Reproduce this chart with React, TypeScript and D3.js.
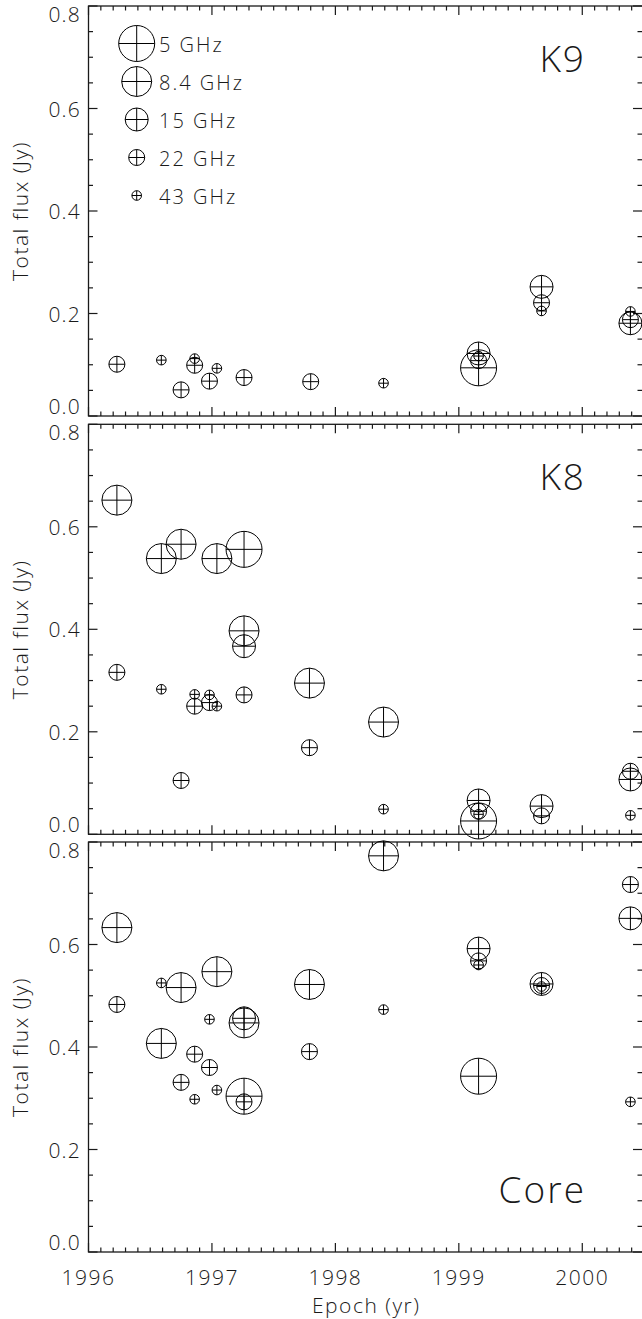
import * as d3 from 'd3';

// bands: 0 = 5 GHz, 1 = 8.4 GHz, 2 = 15 GHz, 3 = 22 GHz, 4 = 43 GHz
const bandLabels = ['5 GHz', '8.4 GHz', '15 GHz', '22 GHz', '43 GHz'];
const bandRadius = [18, 15, 11.5, 8, 4.8];

type Pt = [number, number, number]; // epoch, band, flux

const k9Points: Pt[] = [
  [1996.23, 3, 0.101],
  [1996.59, 4, 0.109],
  [1996.75, 3, 0.051],
  [1996.86, 3, 0.099],
  [1996.86, 4, 0.112],
  [1996.98, 3, 0.068],
  [1997.04, 4, 0.093],
  [1997.26, 3, 0.075],
  [1997.8, 3, 0.067],
  [1998.39, 4, 0.064],
  [1999.16, 0, 0.094],
  [1999.16, 2, 0.122],
  [1999.16, 3, 0.108],
  [1999.16, 4, 0.117],
  [1999.67, 2, 0.252],
  [1999.67, 3, 0.221],
  [1999.67, 4, 0.205],
  [2000.39, 2, 0.181],
  [2000.39, 3, 0.188],
  [2000.39, 4, 0.204],
];

const k8Points: Pt[] = [
  [1996.23, 1, 0.652],
  [1996.23, 3, 0.316],
  [1996.59, 1, 0.538],
  [1996.59, 4, 0.283],
  [1996.75, 1, 0.566],
  [1996.75, 3, 0.105],
  [1996.86, 4, 0.273],
  [1996.86, 3, 0.25],
  [1996.98, 4, 0.272],
  [1996.98, 3, 0.257],
  [1997.04, 4, 0.25],
  [1997.04, 1, 0.538],
  [1997.26, 0, 0.556],
  [1997.26, 1, 0.397],
  [1997.26, 2, 0.367],
  [1997.26, 3, 0.272],
  [1997.79, 1, 0.295],
  [1997.79, 3, 0.169],
  [1998.39, 1, 0.219],
  [1998.39, 4, 0.049],
  [1999.16, 2, 0.066],
  [1999.16, 3, 0.045],
  [1999.16, 4, 0.039],
  [1999.16, 0, 0.026],
  [1999.67, 2, 0.055],
  [1999.67, 3, 0.036],
  [2000.39, 3, 0.123],
  [2000.39, 2, 0.107],
  [2000.39, 4, 0.037],
];

const corePoints: Pt[] = [
  [1996.23, 1, 0.633],
  [1996.23, 3, 0.483],
  [1996.59, 4, 0.525],
  [1996.59, 1, 0.407],
  [1996.75, 1, 0.516],
  [1996.75, 3, 0.331],
  [1996.86, 3, 0.386],
  [1996.86, 4, 0.298],
  [1996.98, 4, 0.454],
  [1996.98, 3, 0.36],
  [1997.04, 1, 0.547],
  [1997.04, 4, 0.316],
  [1997.26, 2, 0.456],
  [1997.26, 1, 0.447],
  [1997.26, 0, 0.304],
  [1997.26, 3, 0.293],
  [1997.79, 1, 0.522],
  [1997.79, 3, 0.391],
  [1998.39, 1, 0.773],
  [1998.39, 4, 0.473],
  [1999.16, 2, 0.592],
  [1999.16, 3, 0.568],
  [1999.16, 4, 0.56],
  [1999.16, 0, 0.343],
  [1999.67, 2, 0.523],
  [1999.67, 3, 0.52],
  [1999.67, 4, 0.518],
  [2000.39, 3, 0.717],
  [2000.39, 2, 0.651],
  [2000.39, 4, 0.293],
];

const yearTicks = [1996, 1997, 1998, 1999, 2000];
const fluxTicks = [0, 0.2, 0.4, 0.6, 0.8];

const font = "'Open Sans', 'Liberation Sans', 'DejaVu Sans', sans-serif";
const ink = '#1a1a1a';

const left = 88.5;
const right = 644;
const panelH = 410;
const panelTops = [6, 424.3, 842];

const x = d3.scaleLinear().domain([1996, 2000.5]).range([left, right]);
const xMinor = d3.range(1996, 2000.51, 0.1);
const yMinor = d3.range(0, 0.801, 0.05);

function Marker({ cx, cy, r }: { cx: number; cy: number; r: number }) {
  return (
    <g stroke="#000" strokeWidth={1} fill="none">
      <circle cx={cx} cy={cy} r={r} />
      <line x1={cx - r} x2={cx + r} y1={cy} y2={cy} />
      <line x1={cx} x2={cx} y1={cy - r} y2={cy + r} />
    </g>
  );
}

const textProps = {
  fontFamily: font,
  fontWeight: 300,
  fill: ink,
};

function Panel({
  top,
  points,
  label,
  labelY,
  showX,
  legend,
}: {
  top: number;
  points: Pt[];
  label: string;
  labelY: number;
  showX: boolean;
  legend?: boolean;
}) {
  const bottom = top + panelH;
  const y = d3.scaleLinear().domain([0, 0.8]).range([bottom, top]);
  const isMajorX = (v: number) => Math.abs(v - Math.round(v)) < 1e-6;
  const isMajorY = (v: number) => Math.abs(v * 5 - Math.round(v * 5)) < 1e-6;
  // end labels are pulled inside the frame, middle ones centred on the tick
  const labelBase = (v: number) => {
    if (v === 0) return y(v) - 2;
    if (v === 0.8) return y(v) + 16;
    return y(v) + 8;
  };
  return (
    <g>
      <rect x={left} y={top} width={right - left} height={panelH} fill="none" stroke={ink} strokeWidth={1.3} />
      {xMinor.map((v, i) => {
        const len = isMajorX(v) ? 9 : 4.5;
        const px = x(v);
        return (
          <g key={'xt' + i} stroke={ink} strokeWidth={1.2}>
            <line x1={px} x2={px} y1={top} y2={top + len} />
            <line x1={px} x2={px} y1={bottom} y2={bottom - len} />
          </g>
        );
      })}
      {yMinor.map((v, i) => {
        const len = isMajorY(v) ? 9 : 4.5;
        const py = y(v);
        return (
          <g key={'yt' + i} stroke={ink} strokeWidth={1.2}>
            <line x1={left} x2={left + len} y1={py} y2={py} />
            <line x1={right - 2} x2={right - 2 - len} y1={py} y2={py} />
          </g>
        );
      })}
      {fluxTicks.map((v) => (
        <text key={'yl' + v} x={81} y={labelBase(v)} textAnchor="end" fontSize={21} letterSpacing={1.2} {...textProps}>
          {v.toFixed(1)}
        </text>
      ))}
      <text
        transform={`translate(28,${(top + bottom) / 2}) rotate(-90)`}
        textAnchor="middle"
        fontSize={21}
        letterSpacing={1.5}
        {...textProps}
      >
        Total flux (Jy)
      </text>
      {showX &&
        yearTicks.map((v) => (
          <text key={'xl' + v} x={x(v)} y={bottom + 33} textAnchor="middle" fontSize={21} letterSpacing={1.5} {...textProps}>
            {v}
          </text>
        ))}
      {showX && (
        <text x={(left + right) / 2} y={bottom + 61} textAnchor="middle" fontSize={21} letterSpacing={1.5} {...textProps}>
          Epoch (yr)
        </text>
      )}
      <text x={586} y={labelY} textAnchor="end" fontSize={37} letterSpacing={2} {...textProps}>
        {label}
      </text>
      {points.map(([e, b, f], i) => (
        <Marker key={'p' + i} cx={x(e)} cy={y(f)} r={bandRadius[b]} />
      ))}
      {legend &&
        bandLabels.map((lab, i) => {
          const cy = top + 37.5 + i * 38;
          return (
            <g key={'lg' + i}>
              <Marker cx={136.7} cy={cy} r={bandRadius[i]} />
              <text x={159} y={cy + 8} fontSize={20} letterSpacing={2} {...textProps}>
                {lab}
              </text>
            </g>
          );
        })}
    </g>
  );
}

export default function App() {
  return (
    <svg width={642} height={1319} style={{ position: 'absolute', left: 0, top: 0, background: '#fff' }}>
      <Panel top={panelTops[0]} points={k9Points} label="K9" labelY={panelTops[0] + 66} showX={false} legend />
      <Panel top={panelTops[1]} points={k8Points} label="K8" labelY={panelTops[1] + 66} showX={false} />
      <Panel top={panelTops[2]} points={corePoints} label="Core" labelY={panelTops[2] + panelH - 49} showX />
    </svg>
  );
}
